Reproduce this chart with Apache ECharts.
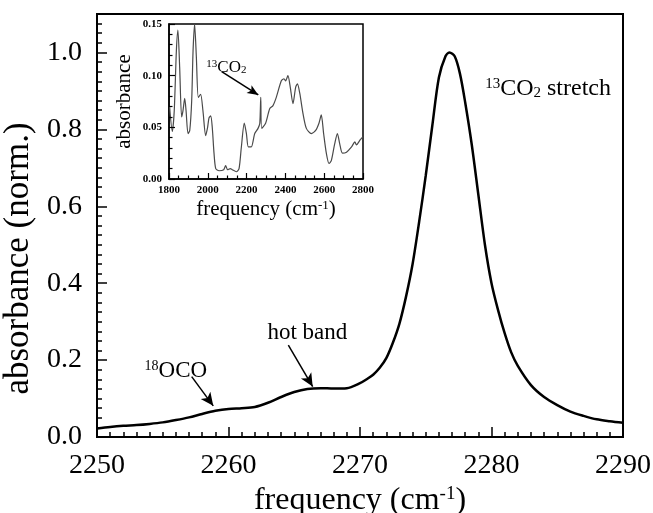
<!DOCTYPE html>
<html>
<head>
<meta charset="utf-8">
<script src="https://cdn.jsdelivr.net/npm/echarts@6/dist/echarts.min.js"></script>
<style>
  html, body { margin: 0; padding: 0; background: #fff; }
  #chart { width: 653px; height: 513px; }
</style>
</head>
<body>
<div id="chart"></div>
<script>
// Normalised absorbance of the 13CO2 stretch region (cm^-1)
const mainFreq = [
  2250.0, 2251.0, 2252.0, 2253.0, 2254.0, 2255.0, 2256.0, 2257.0, 2258.0, 2259.0,
  2260.0, 2261.0, 2262.0, 2263.0, 2264.0, 2265.0, 2266.0, 2267.0, 2268.0, 2269.0,
  2270.0, 2270.5, 2271.0, 2271.5, 2272.0, 2272.5, 2273.0, 2273.5, 2274.0, 2274.5,
  2275.0, 2275.5, 2276.0, 2276.5, 2276.8, 2277.2, 2277.6, 2278.0, 2278.5, 2279.0,
  2279.5, 2280.0, 2280.5, 2281.0, 2281.5, 2282.0, 2283.0, 2284.0, 2285.0, 2286.0,
  2287.0, 2288.0, 2289.0, 2290.0
];
const mainAbs = [
  0.022, 0.026, 0.029, 0.031, 0.034, 0.038, 0.044, 0.051, 0.060, 0.068,
  0.073, 0.075, 0.078, 0.089, 0.104, 0.117, 0.125, 0.127, 0.126, 0.127,
  0.140, 0.150, 0.162, 0.180, 0.205, 0.245, 0.295, 0.365, 0.450, 0.560,
  0.680, 0.810, 0.935, 0.990, 1.000, 0.990, 0.945, 0.870, 0.760, 0.630,
  0.500, 0.400, 0.330, 0.270, 0.220, 0.185, 0.135, 0.104, 0.083, 0.066,
  0.055, 0.046, 0.041, 0.037
];

// Wide-range survey spectrum shown in the inset
const insetFreq = [
  1803, 1817, 1827, 1838, 1846, 1855, 1865, 1872, 1881, 1888,
  1898, 1907, 1917, 1924, 1932, 1941, 1951, 1963, 1975, 1989,
  1999, 2006, 2015, 2023, 2032, 2041, 2058, 2082, 2092, 2102,
  2116, 2126, 2147, 2161, 2173, 2188, 2199, 2209, 2224, 2242,
  2259, 2268, 2273, 2278, 2298, 2319, 2336, 2353, 2379, 2393,
  2401, 2413, 2425, 2439, 2453, 2462, 2474, 2491, 2508, 2534,
  2556, 2573, 2585, 2597, 2611, 2625, 2637, 2654, 2668, 2680,
  2694, 2715, 2741, 2758, 2766, 2786, 2800
];
const insetAbs = [
  0.070, 0.046, 0.066, 0.124, 0.144, 0.108, 0.060, 0.066, 0.078, 0.066,
  0.044, 0.047, 0.076, 0.124, 0.150, 0.118, 0.079, 0.082, 0.066, 0.042,
  0.050, 0.059, 0.061, 0.050, 0.025, 0.010, 0.008, 0.009, 0.013, 0.009,
  0.010, 0.009, 0.007, 0.010, 0.031, 0.054, 0.044, 0.031, 0.031, 0.044,
  0.049, 0.054, 0.079, 0.049, 0.054, 0.068, 0.071, 0.079, 0.095, 0.097,
  0.095, 0.100, 0.089, 0.073, 0.089, 0.092, 0.083, 0.063, 0.049, 0.044,
  0.047, 0.054, 0.062, 0.044, 0.025, 0.015, 0.018, 0.034, 0.044, 0.034,
  0.025, 0.026, 0.031, 0.036, 0.033, 0.038, 0.041
];

// Axis ranges and tick spacing: [min, max, major step, minor step]
const mainXAxisDef = [2250, 2290, 10, 1];
const mainYAxisDef = [0, 1.1, 0.2, 0.025];
const insetXAxisDef = [1800, 2800, 200, 50];
const insetYAxisDef = [0, 0.15, 0.05, 0.01];

// Annotation labels (rich text) and the data points they sit at
const labelStretch = { text: '{sup|13}CO{sub|2} stretch', at: [2284.3, 0.905] };
const labelHot = { text: 'hot band', at: [2266.0, 0.27] };
const labelOCO = { text: '{sup|18}OCO', at: [2256.0, 0.172] };
const labelInset = { text: '{sup|13}CO{sub|2}', at: [2096, 0.108] };

// Arrows: [tail, head] in data coordinates
const arrowOCO = [[2257.2, 0.157], [2258.84, 0.081]];
const arrowHot = [[2264.55, 0.239], [2266.4, 0.131]];
const arrowInset = [[2071.6, 0.1038], [2260.3, 0.0813]];

const serif = '"Liberation Serif", "Times New Roman", serif';

const pairs = (xs, ys) => xs.map((x, i) => [x, ys[i]]);

const arrowLine = (seg) => [
  { coord: seg[0], symbol: 'none' },
  { coord: seg[1], symbol: 'arrow' }
];

const chart = echarts.init(document.getElementById('chart'));

const supRich = (size) => ({
  sup: { fontSize: size, fontFamily: serif, color: '#000', verticalAlign: 'top' },
  sub: { fontSize: size, fontFamily: serif, color: '#000', verticalAlign: 'bottom' }
});

const ts = (w) => ({ color: '#000', width: w });

chart.setOption({
  animation: false,
  backgroundColor: '#fff',
  grid: [
    { left: 97, top: 14, right: 30, bottom: 76, show: true, borderColor: '#000', borderWidth: 2, containLabel: false, outerBoundsMode: 'none' },
    { left: 169, top: 24, width: 194, height: 155, show: true, backgroundColor: '#fff', borderColor: '#000', borderWidth: 1.5, containLabel: false, outerBoundsMode: 'none' }
  ],
  xAxis: [
    {
      type: 'value', gridIndex: 0, min: mainXAxisDef[0], max: mainXAxisDef[1], interval: mainXAxisDef[2],
      axisLine: { show: true, lineStyle: ts(2) },
      axisTick: { show: false },
      splitLine: { show: false },
      axisLabel: { show: true, color: '#000', fontFamily: serif, fontSize: 28, margin: 15, formatter: (v) => String(v) },
      name: 'frequency (cm{sup|-1})',
      nameLocation: 'middle', nameGap: 33,
      nameTextStyle: { color: '#000', fontFamily: serif, fontSize: 32, rich: supRich(19) }
    },
    {
      type: 'value', gridIndex: 1, min: insetXAxisDef[0], max: insetXAxisDef[1], interval: insetXAxisDef[2],
      axisLine: { show: true, lineStyle: ts(1.5) },
      axisTick: { show: false },
      splitLine: { show: false },
      axisLabel: { show: true, color: '#000', fontFamily: serif, fontWeight: 'bold', fontSize: 11, margin: 6, formatter: (v) => String(v) },
      name: 'frequency (cm{sup|-1})',
      nameLocation: 'middle', nameGap: 20,
      nameTextStyle: { color: '#000', fontFamily: serif, fontSize: 21, rich: supRich(13) }
    }
  ],
  yAxis: [
    {
      type: 'value', gridIndex: 0, min: mainYAxisDef[0], max: mainYAxisDef[1], interval: mainYAxisDef[2],
      axisLine: { show: true, lineStyle: ts(2) },
      axisTick: { show: false },
      splitLine: { show: false },
      axisLabel: {
        show: true, color: '#000', fontFamily: serif, fontSize: 28, margin: 15, showMaxLabel: false,
        formatter: (v) => v.toFixed(1)
      },
      name: 'absorbance (norm.)',
      nameLocation: 'middle', nameGap: 60,
      nameTextStyle: { color: '#000', fontFamily: serif, fontSize: 35, padding: [0, 66, 0, 0] }
    },
    {
      type: 'value', gridIndex: 1, min: insetYAxisDef[0], max: insetYAxisDef[1], interval: insetYAxisDef[2],
      axisLine: { show: true, lineStyle: ts(1.5) },
      axisTick: { show: false },
      splitLine: { show: false },
      axisLabel: {
        show: true, color: '#000', fontFamily: serif, fontWeight: 'bold', fontSize: 11, margin: 7,
        formatter: (v) => v.toFixed(2)
      },
      name: 'absorbance',
      nameLocation: 'middle', nameGap: 34,
      nameTextStyle: { color: '#000', fontFamily: serif, fontSize: 21 }
    }
  ],
  series: [
    {
      type: 'line', xAxisIndex: 0, yAxisIndex: 0,
      data: pairs(mainFreq, mainAbs),
      smooth: 0.3, showSymbol: false, silent: true,
      lineStyle: { color: '#000', width: 2.5 },
      markLine: {
        silent: true, animation: false,
        symbolSize: [9, 13],
        label: { show: false },
        lineStyle: { color: '#000', width: 1.5, type: 'solid' },
        data: [arrowLine(arrowOCO), arrowLine(arrowHot)]
      }
    },
    {
      type: 'line', xAxisIndex: 1, yAxisIndex: 1,
      data: pairs(insetFreq, insetAbs),
      smooth: 0.25, showSymbol: false, silent: true,
      lineStyle: { color: '#4a4a4a', width: 1.2 },
      markLine: {
        silent: true, animation: false,
        symbolSize: [7, 11],
        label: { show: false },
        lineStyle: { color: '#000', width: 1.5, type: 'solid' },
        data: [arrowLine(arrowInset)]
      }
    }
  ]
});

const finder = (xi, yi) => ({ xAxisIndex: xi, yAxisIndex: yi });
const toPx = (pt, xi, yi) => chart.convertToPixel(finder(xi, yi), pt);
const fromPx = (pt, xi, yi) => chart.convertFromPixel(finder(xi, yi), pt);

// Inward tick marks along the bottom and left axes, as short line segments in data space
function tickSegments(xDef, yDef, xi, yi, majorLen, minorLen, width) {
  const out = [];
  const style = { color: '#000', width: width, type: 'solid' };
  const seg = (a, b) => [
    { coord: a, symbol: 'none', lineStyle: style },
    { coord: b, symbol: 'none' }
  ];
  const isMajor = (v, def) => Math.abs(Math.round((v - def[0]) / def[2]) * def[2] - (v - def[0])) < def[3] * 1e-3;
  const nx = Math.round((xDef[1] - xDef[0]) / xDef[3]);
  for (let i = 0; i <= nx; i++) {
    const v = xDef[0] + i * xDef[3];
    const p = toPx([v, yDef[0]], xi, yi);
    const len = isMajor(v, xDef) ? majorLen : minorLen;
    const q = fromPx([p[0], p[1] - len], xi, yi);
    out.push(seg([v, yDef[0]], [v, q[1]]));
  }
  const ny = Math.round((yDef[1] - yDef[0]) / yDef[3]);
  for (let i = 0; i <= ny; i++) {
    const v = yDef[0] + i * yDef[3];
    const p = toPx([xDef[0], v], xi, yi);
    const len = isMajor(v, yDef) ? majorLen : minorLen;
    const q = fromPx([p[0] + len, p[1]], xi, yi);
    out.push(seg([xDef[0], v], [q[0], v]));
  }
  return out;
}

// Text annotations placed at their data positions
const textEl = (lbl, xi, yi, size, subSize) => {
  const p = toPx(lbl.at, xi, yi);
  return {
    type: 'text', x: p[0], y: p[1], z: 100, silent: true,
    style: {
      text: lbl.text, fill: '#000', fontFamily: serif, fontSize: size,
      align: 'center', verticalAlign: 'middle', rich: supRich(subSize)
    }
  };
};

chart.setOption({
  series: [
    { markLine: { data: [arrowLine(arrowOCO), arrowLine(arrowHot), ...tickSegments(mainXAxisDef, mainYAxisDef, 0, 0, 10, 5, 1.5)] } },
    { markLine: { data: [arrowLine(arrowInset), ...tickSegments(insetXAxisDef, insetYAxisDef, 1, 1, 6, 3.5, 1.2)] } }
  ],
  graphic: [
    textEl(labelStretch, 0, 0, 24, 15),
    textEl(labelHot, 0, 0, 23, 14),
    textEl(labelOCO, 0, 0, 23, 14),
    textEl(labelInset, 1, 1, 17, 11)
  ]
});
</script>
</body>
</html>
